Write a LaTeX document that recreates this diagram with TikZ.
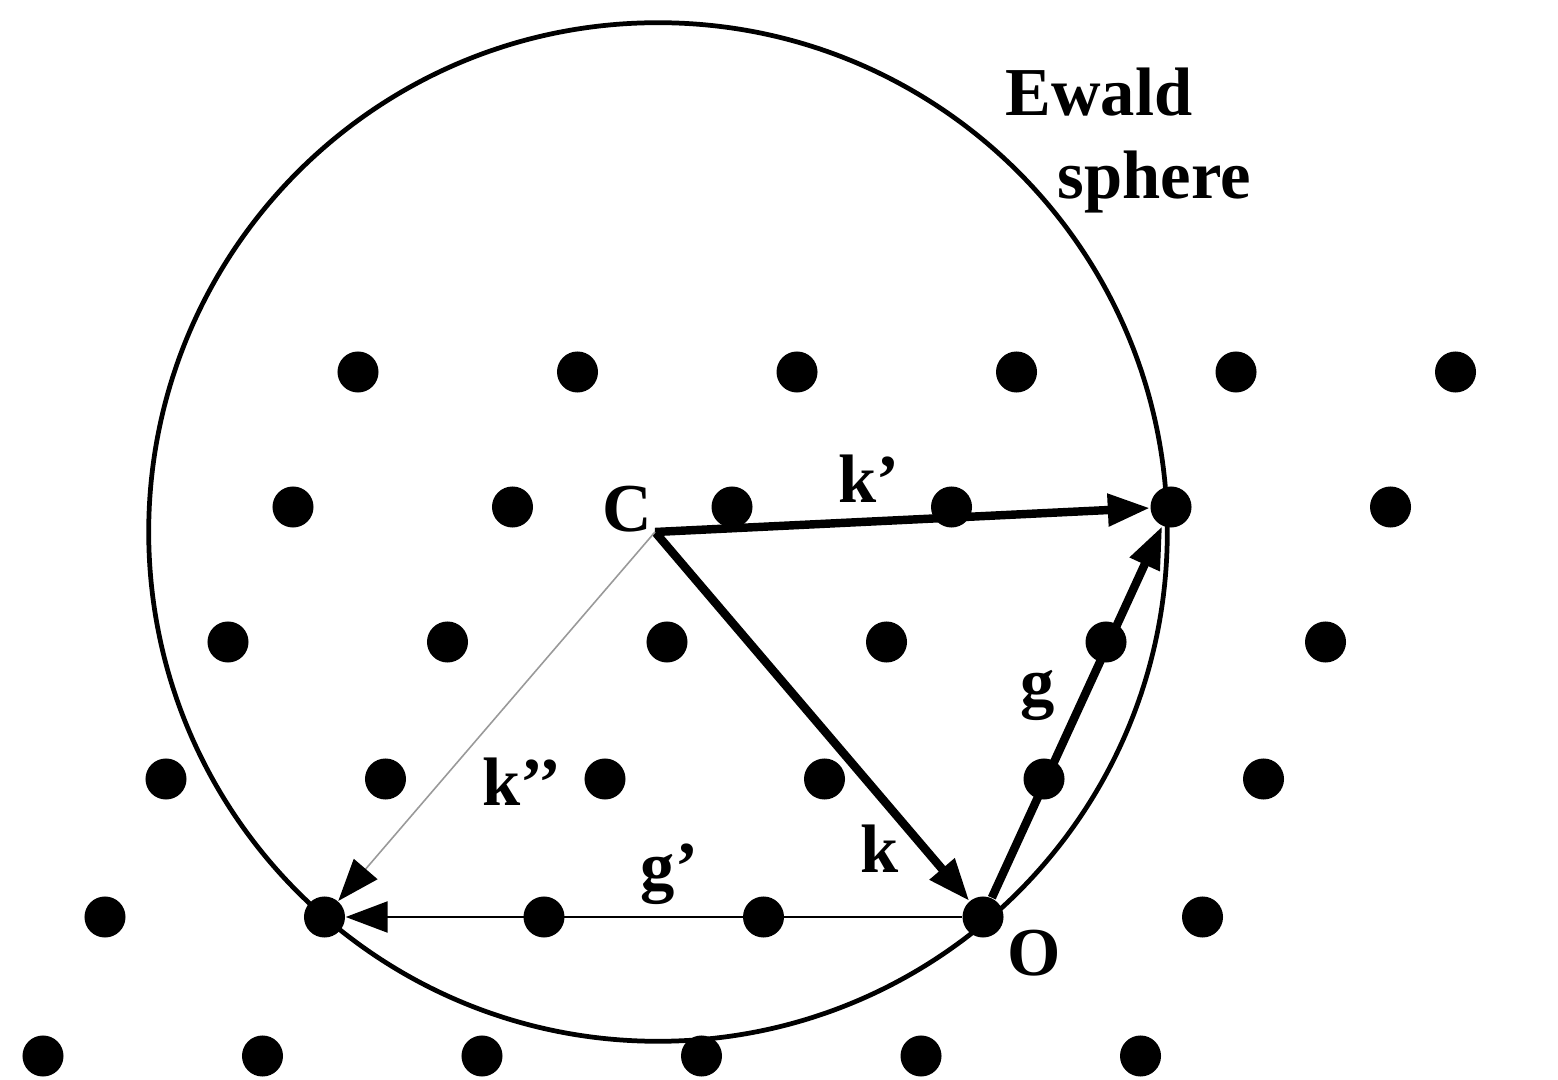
\documentclass[tikz,border=0pt]{standalone}
\usepackage{fontspec}
\setmainfont{Liberation Serif}
\usetikzlibrary{arrows.meta}
\begin{document}
\begin{tikzpicture}[x=0.01cm,y=-0.01cm,
  dot/.style={circle,fill=black,inner sep=0pt,minimum size=0.41cm},
  lbl/.style={anchor=base west,inner sep=0pt,font=\fontsize{19.5}{23}\selectfont\bfseries},
  tip/.style={-{Triangle[length=0.42cm,width=0.31cm,color=black]}},
  thickvec/.style={tip,line width=2.4pt},
  thinvec/.style={tip,line width=0.7pt},
  faintvec/.style={tip,line width=0.45pt,draw=black!40}]
\useasboundingbox (0,0) rectangle (1558,1080);
\draw[line width=1.35pt] (658,532) circle[radius=5.09cm];
\foreach \r/\x/\y in {1/358/372, 2/293/507, 3/228/642, 4/166/779, 5/105/917, 6/43/1056}
  \foreach \c in {0,...,5}
    \node[dot] (d\r\c) at ({\x+219.5*\c},\y) {};
\coordinate (C) at (655,532);
\draw[thickvec] (C) -- (d54);
\draw[thickvec] (C) -- (d24);
\draw[thickvec] (d54) -- (d24);
\draw[thinvec] (d54) -- (d51);
\draw[faintvec] (C) -- (d51);
\node[lbl] (lC) at (602,532) {C};
\node[lbl] (lO) at (1007,975) {O};
\node[lbl] (lkp) at (838,503) {k’};
\node[lbl] (lg) at (1020,706) {g};
\node[lbl] (lkpp) at (482,805) {k’’};
\node[lbl] (lk) at (860,873) {k};
\node[lbl] (lgp) at (640,889) {g’};
\node[lbl] (lE) at (1005,116) {Ewald};
\node[lbl] (lS) at (1057,199) {sphere};
\end{tikzpicture}
\end{document}
